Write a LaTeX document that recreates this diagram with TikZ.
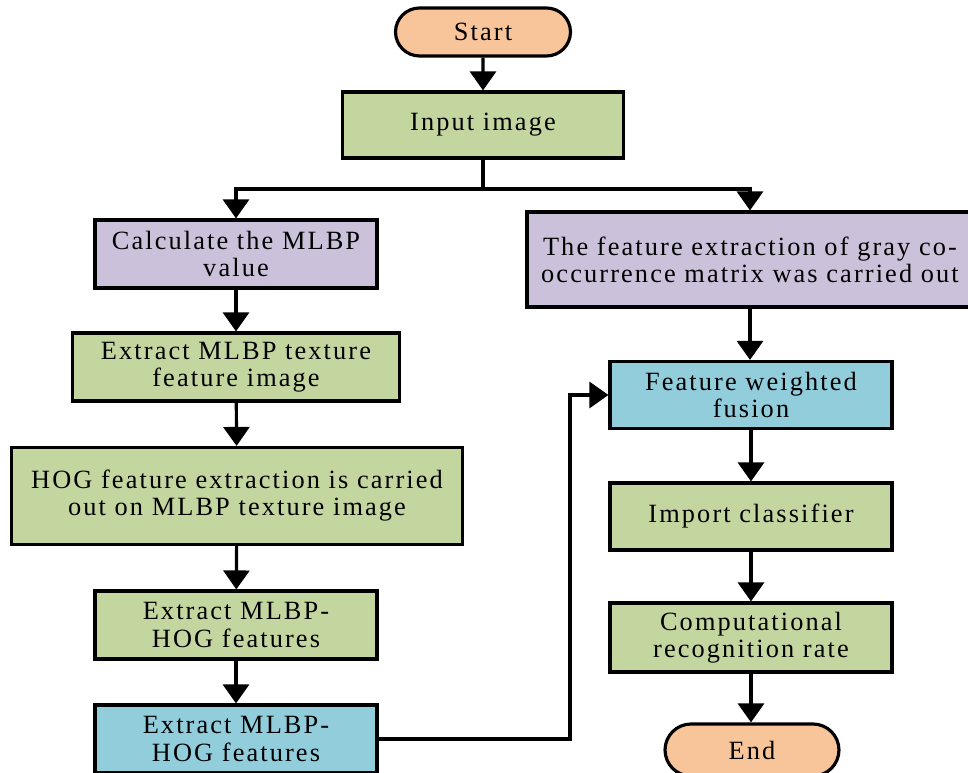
\documentclass[tikz,border=0pt]{standalone}
\usepackage{fontspec}
\setmainfont[LetterSpace=8]{Liberation Serif}
\usetikzlibrary{arrows.meta,shapes.misc}

\definecolor{termorange}{RGB}{248,196,154}
\definecolor{procgreen}{RGB}{196,214,160}
\definecolor{calcpurple}{RGB}{204,193,218}
\definecolor{fuseblue}{RGB}{146,205,220}

\tikzset{
	box/.style={draw=black,line width=1.8pt,rectangle,align=center,
		font=\fontsize{15}{15.4}\selectfont,inner sep=2pt},
	term/.style={box,rounded rectangle,fill=termorange},
	greenbox/.style={box,fill=procgreen},
	purplebox/.style={box,fill=calcpurple},
	bluebox/.style={box,fill=fuseblue},
	flow/.style={line width=1.8pt,-{Triangle[width=0.52cm,length=0.38cm]}}
}

\begin{document}
\begin{tikzpicture}[x=0.02cm,y=-0.02cm]
	\useasboundingbox (0,0) rectangle (968,773);
	\clip (0,0) rectangle (968,773);

	% left branch
	\node[term,minimum width=3.64cm,minimum height=0.96cm] (start) at (483,32) {Start};
	\node[greenbox,minimum width=5.62cm,minimum height=1.32cm] (input) at (483,125) {Input image};
	\node[purplebox,minimum width=5.64cm,minimum height=1.36cm] (calc) at (236,254) {Calculate the MLBP\\value};
	\node[greenbox,minimum width=6.54cm,minimum height=1.36cm] (texture) at (236,367) {Extract MLBP texture\\feature image};
	\node[greenbox,minimum width=9.02cm,minimum height=1.94cm] (hog) at (237,496) {HOG feature extraction is carried\\out on MLBP texture image};
	\node[greenbox,minimum width=5.64cm,minimum height=1.36cm] (mlbphog) at (236,625) {Extract MLBP-\\HOG features};
	\node[bluebox,minimum width=5.64cm,minimum height=1.36cm] (mlbphogb) at (236,739) {Extract MLBP-\\HOG features};

	% right branch
	\node[purplebox,minimum width=8.92cm,minimum height=1.9cm] (glcm) at (750,259.5) {The feature extraction of gray co-\\occurrence matrix was carried out};
	\node[bluebox,minimum width=5.64cm,minimum height=1.34cm] (fusion) at (751,395) {Feature weighted\\fusion};
	\node[greenbox,minimum width=5.64cm,minimum height=1.34cm] (classify) at (751,516.5) {Import classifier};
	\node[greenbox,minimum width=5.64cm,minimum height=1.38cm] (rate) at (751,637.5) {Computational\\recognition rate};
	\node[term,minimum width=3.62cm,minimum height=1.04cm] (end) at (752,750) {End};

	\coordinate (fork) at (483,189);
	\coordinate (turn) at (570,739);

	\draw[flow] (start) -- (input);
	\draw[line width=1.8pt] (input.south) -- (fork);
	\draw[flow] (fork) -| (calc.north);
	\draw[flow] (fork) -| (glcm.north);
	\draw[flow] (calc) -- (texture);
	\draw[flow] (texture) -- (hog);
	\draw[flow] (hog) -- (mlbphog);
	\draw[flow] (mlbphog) -- (mlbphogb);
	\draw[flow] (mlbphogb.east) -- (turn) |- (fusion.west);
	\draw[flow] (glcm.south) -- (glcm.south |- fusion.north);
	\draw[flow] (fusion) -- (classify);
	\draw[flow] (classify) -- (rate);
	\draw[flow] (rate) -- (rate.south |- end.north);
\end{tikzpicture}
\end{document}
